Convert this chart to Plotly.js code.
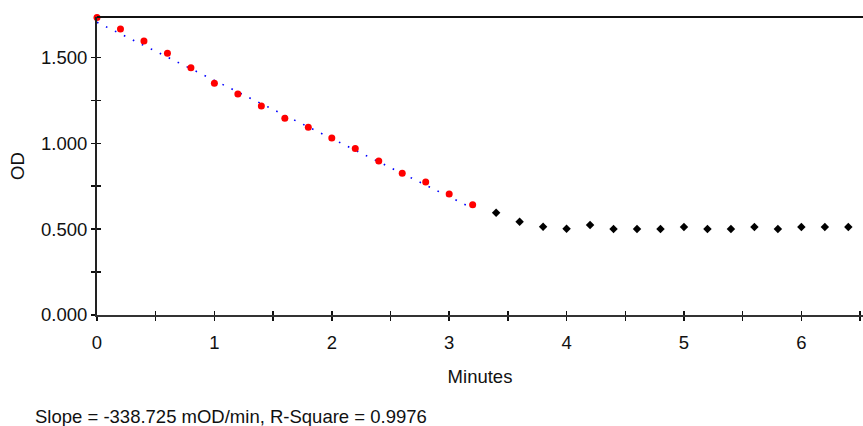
<!DOCTYPE html>
<html>
<head>
<meta charset="utf-8">
<script src="https://cdn.plot.ly/plotly-3.0.1.min.js"></script>
<style>html,body{margin:0;padding:0;background:#fff;}#chart{width:863px;height:426px;}</style>
</head>
<body>
<div id="chart"></div>
<script>
// Fitted (red) points
const fitPtsX = [0, 0.2, 0.4, 0.6, 0.8, 1.0, 1.2, 1.4, 1.6, 1.8, 2.0, 2.2, 2.4, 2.6, 2.8, 3.0, 3.2];
const fitPtsY = [1.733, 1.666, 1.596, 1.524, 1.440, 1.349, 1.287, 1.217, 1.146, 1.093, 1.031, 0.969, 0.897, 0.825, 0.775, 0.705, 0.642];
// Remaining (black) points
const restX = [3.4, 3.6, 3.8, 4.0, 4.2, 4.4, 4.6, 4.8, 5.0, 5.2, 5.4, 5.6, 5.8, 6.0, 6.2, 6.4];
const restY = [0.596, 0.543, 0.514, 0.502, 0.524, 0.501, 0.501, 0.501, 0.513, 0.501, 0.501, 0.513, 0.501, 0.513, 0.513, 0.513];
// Linear fit line end points
const fitLineX = [0, 3.2];
const fitLineY = [1.705, 0.621];
// Ticks
const xTickVals = [0, 0.5, 1, 1.5, 2, 2.5, 3, 3.5, 4, 4.5, 5, 5.5, 6, 6.5];
const xTickText = ['0', '', '1', '', '2', '', '3', '', '4', '', '5', '', '6', ''];
const yTickVals = [0, 0.25, 0.5, 0.75, 1.0, 1.25, 1.5];
const yTickText = ['0.000', '', '0.500', '', '1.000', '', '1.500'];
const slopeText = 'Slope = -338.725 mOD/min, R-Square = 0.9976';

const FONT = 'Liberation Sans, Arial, sans-serif';
const FS = 18.5;
const xRange = [0, 6.525];
const yRange = [0, 1.7355];

const traces = [
  {x: fitLineX, y: fitLineY, mode: 'lines', line: {color: '#0000ff', width: 1.6, dash: '1.6px,8.4px'}, hoverinfo: 'skip'},
  {x: restX, y: restY, mode: 'markers', marker: {symbol: 'diamond', size: 6.5, color: '#000000'}},
  {x: fitPtsX, y: fitPtsY, mode: 'markers', marker: {symbol: 'circle', size: 7, color: '#ff0000'}, cliponaxis: false},
  {x: [0], y: [0], xaxis: 'x2', yaxis: 'y2', mode: 'markers', marker: {opacity: 0}, hoverinfo: 'skip'}
];

const layout = {
  width: 863, height: 426,
  margin: {l: 97, r: 0, t: 17, b: 111, pad: 0},
  paper_bgcolor: '#ffffff', plot_bgcolor: '#ffffff',
  showlegend: false,
  font: {family: FONT, size: FS, color: '#000'},
  xaxis: {
    range: xRange, tickmode: 'array', tickvals: xTickVals, ticktext: xTickText,
    ticks: 'outside', ticklen: 4, tickwidth: 1.5, tickcolor: '#111',
    showline: true, linewidth: 2, linecolor: '#333', showgrid: false, zeroline: false,
    ticklabelstandoff: 6, tickfont: {family: FONT, size: FS, color: '#111'},
    title: {text: 'Minutes', standoff: 18, font: {family: FONT, size: FS, color: '#111'}},
    automargin: false
  },
  yaxis: {
    range: yRange, tickmode: 'array', tickvals: yTickVals, ticktext: yTickText,
    ticks: 'outside', ticklen: 4, tickwidth: 1.5, tickcolor: '#111',
    showline: true, linewidth: 2, linecolor: '#222', showgrid: false, zeroline: false,
    tickfont: {family: FONT, size: FS, color: '#111'},
    title: {text: 'OD', standoff: 12, font: {family: FONT, size: FS, color: '#111'}},
    automargin: false
  },
  xaxis2: {
    overlaying: 'x', anchor: 'y2', range: xRange, tickmode: 'array', tickvals: xTickVals,
    ticks: 'inside', ticklen: 4, tickwidth: 1.5, tickcolor: '#111',
    showticklabels: false, showline: false, showgrid: false, zeroline: false
  },
  yaxis2: {
    overlaying: 'y', anchor: 'x2', range: yRange, tickmode: 'array', tickvals: yTickVals,
    ticks: 'inside', ticklen: 4, tickwidth: 1.5, tickcolor: '#111',
    showticklabels: false, showline: false, showgrid: false, zeroline: false
  },
  shapes: [
    {type: 'line', xref: 'paper', yref: 'paper', x0: 0, x1: 1, y0: 1, y1: 1, line: {color: '#111', width: 2}}
  ],
  annotations: [
    {text: slopeText, xref: 'paper', yref: 'paper', x: -0.0836, y: -0.342, xanchor: 'left', yanchor: 'middle',
     showarrow: false, font: {family: FONT, size: FS, color: '#111'}}
  ]
};

Plotly.newPlot('chart', traces, layout, {staticPlot: true, displayModeBar: false});
</script>
</body>
</html>
